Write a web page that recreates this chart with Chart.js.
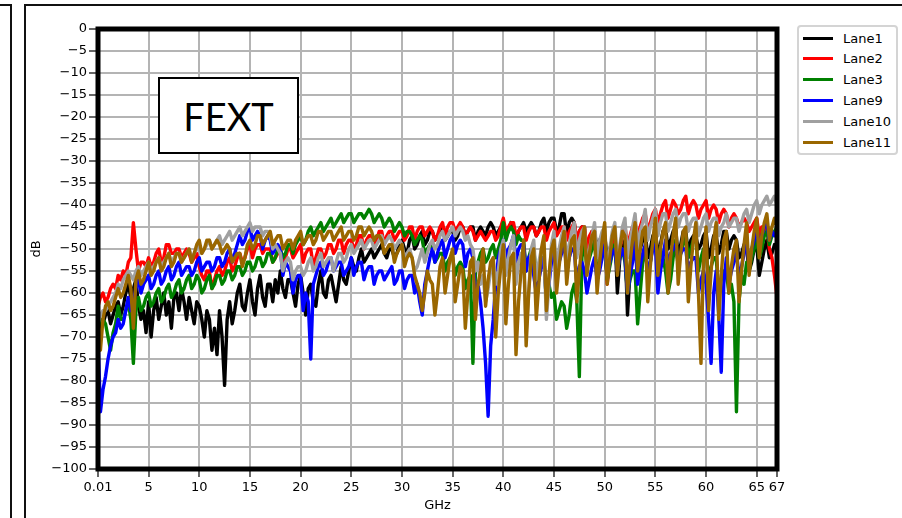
<!DOCTYPE html>
<html>
<head>
<meta charset="utf-8">
<script src="https://cdn.jsdelivr.net/npm/chart.js@4.4.1/dist/chart.umd.min.js"></script>
<style>
html,body{margin:0;padding:0;background:#fff;}
#wrap{position:relative;width:902px;height:518px;overflow:hidden;background:#fff;}
#c{position:absolute;left:0;top:0;}
.frameL{position:absolute;left:0;top:4px;width:10px;height:520px;border-top:2px solid #111;border-right:2px solid #111;}
.frameR{position:absolute;left:24px;top:4px;width:890px;height:520px;border-top:2px solid #111;border-left:2px solid #111;}
#fext{position:absolute;left:158px;top:77px;width:137px;height:73px;border:2px solid #000;background:#fff;font-family:Lato,'Open Sans',sans-serif;font-size:38px;display:flex;align-items:center;justify-content:center;color:#000;}
#legend{position:absolute;left:797px;top:25px;width:97px;height:126px;border:2px solid #d4d4d4;border-radius:4px;background:#fff;font-family:'DejaVu Sans',sans-serif;font-size:13px;color:#000;}
.item{position:absolute;left:4px;height:20px;display:flex;align-items:center;white-space:nowrap;}
.sw{width:30px;height:3px;margin-right:10px;}
</style>
</head>
<body>
<div id="wrap">
  <div class="frameL"></div>
  <div class="frameR"></div>
  <canvas id="c" width="902" height="518"></canvas>
  <div id="fext">FEXT</div>
  <div id="legend"></div>
</div>
<script>
// Frequency points (GHz)
const freq = [
0.01,0.25,0.5,0.75,1,1.25,1.5,1.75,2,2.25,2.5,2.75,3,3.25,3.5,3.75,4,4.25,4.5,4.75,
5,5.25,5.5,5.75,6,6.25,6.5,6.75,7,7.25,7.5,7.75,8,8.25,8.5,8.75,9,9.25,9.5,9.75,
10,10.25,10.5,10.75,11,11.25,11.5,11.75,12,12.25,12.5,12.75,13,13.25,13.5,13.75,14,14.25,14.5,14.75,
15,15.25,15.5,15.75,16,16.25,16.5,16.75,17,17.25,17.5,17.75,18,18.25,18.5,18.75,19,19.25,19.5,19.75,
20,20.25,20.5,20.75,21,21.25,21.5,21.75,22,22.25,22.5,22.75,23,23.25,23.5,23.75,24,24.25,24.5,24.75,
25,25.25,25.5,25.75,26,26.25,26.5,26.75,27,27.25,27.5,27.75,28,28.25,28.5,28.75,29,29.25,29.5,29.75,
30,30.25,30.5,30.75,31,31.25,31.5,31.75,32,32.25,32.5,32.75,33,33.25,33.5,33.75,34,34.25,34.5,34.75,
35,35.25,35.5,35.75,36,36.25,36.5,36.75,37,37.25,37.5,37.75,38,38.25,38.5,38.75,39,39.25,39.5,39.75,
40,40.25,40.5,40.75,41,41.25,41.5,41.75,42,42.25,42.5,42.75,43,43.25,43.5,43.75,44,44.25,44.5,44.75,
45,45.25,45.5,45.75,46,46.25,46.5,46.75,47,47.25,47.5,47.75,48,48.25,48.5,48.75,49,49.25,49.5,49.75,
50,50.25,50.5,50.75,51,51.25,51.5,51.75,52,52.25,52.5,52.75,53,53.25,53.5,53.75,54,54.25,54.5,54.75,
55,55.25,55.5,55.75,56,56.25,56.5,56.75,57,57.25,57.5,57.75,58,58.25,58.5,58.75,59,59.25,59.5,59.75,
60,60.25,60.5,60.75,61,61.25,61.5,61.75,62,62.25,62.5,62.75,63,63.25,63.5,63.75,64,64.25,64.5,64.75,
65,65.25,65.5,65.75,66,66.25,66.5,66.75,67];

const lane1 = [
-66,-68,-67,-65,-64,-67,-65,-63,-62,-65,-63,-60,-58,-61,-59,-57,-63,-66,-64,-69,
-62,-70,-64,-61,-66,-63,-60,-65,-62,-68,-61,-60,-64,-59,-62,-66,-61,-64,-67,-62,
-63,-66,-70,-64,-66,-73,-68,-74,-64,-70,-81,-66,-62,-67,-64,-60,-58,-63,-64,-60,
-57,-62,-65,-59,-56,-61,-63,-58,-58,-62,-57,-60,-55,-59,-61,-57,-57,-60,-63,-58,
-56,-60,-65,-59,-58,-62,-63,-58,-55,-60,-61,-57,-56,-59,-62,-58,-54,-57,-58,-55,
-52,-54,-55,-52,-50,-53,-52,-51,-50,-52,-51,-50,-49,-51,-52,-50,-50,-52,-51,-49,
-48,-50,-51,-48,-47,-50,-49,-47,-46,-49,-48,-46,-46,-48,-47,-46,-45,-48,-47,-46,
-46,-48,-47,-45,-45,-47,-46,-45,-45,-48,-46,-45,-46,-47,-45,-44,-45,-47,-46,-45,
-45,-47,-46,-44,-45,-48,-46,-45,-44,-46,-45,-44,-45,-47,-46,-44,-43,-46,-44,-43,
-43,-46,-45,-42,-42,-47,-44,-43,-44,-49,-46,-45,-45,-51,-48,-46,-46,-50,-48,-47,
-47,-52,-50,-48,-46,-60,-52,-50,-48,-65,-55,-49,-47,-53,-50,-48,-46,-52,-50,-47,
-46,-51,-49,-46,-45,-50,-48,-46,-45,-52,-49,-46,-46,-51,-48,-47,-47,-50,-49,-47,
-46,-52,-50,-47,-47,-51,-49,-46,-46,-50,-48,-47,-48,-52,-51,-49,-50,-55,-53,-50,
-49,-56,-53,-50,-48,-52,-51,-49,-50];

const lane2 = [
-63,-61,-60,-62,-61,-59,-58,-59,-56,-57,-55,-56,-53,-52,-44,-50,-55,-53,-53,-54,
-52,-54,-53,-51,-50,-53,-52,-49,-49,-51,-51,-50,-50,-52,-51,-50,-51,-53,-52,-51,
-54,-56,-57,-55,-55,-59,-57,-55,-54,-56,-55,-53,-52,-55,-54,-52,-51,-53,-52,-50,
-49,-52,-50,-49,-49,-51,-50,-50,-50,-53,-52,-51,-51,-53,-52,-50,-50,-52,-51,-50,
-49,-53,-51,-50,-50,-54,-52,-50,-50,-52,-51,-49,-49,-51,-50,-48,-48,-51,-49,-48,
-48,-50,-49,-47,-47,-50,-48,-47,-47,-49,-48,-46,-46,-49,-47,-46,-46,-48,-47,-46,
-46,-48,-47,-45,-45,-48,-46,-45,-45,-47,-46,-45,-46,-48,-47,-45,-44,-47,-45,-44,
-44,-46,-45,-44,-45,-47,-46,-45,-46,-48,-47,-46,-47,-48,-47,-46,-46,-48,-47,-45,
-43,-46,-45,-44,-44,-47,-46,-45,-45,-48,-46,-45,-45,-47,-46,-45,-45,-48,-46,-45,
-44,-47,-46,-45,-45,-48,-46,-45,-44,-48,-46,-45,-45,-50,-47,-46,-46,-52,-49,-47,
-48,-58,-52,-48,-47,-55,-50,-47,-45,-49,-47,-45,-44,-47,-45,-43,-42,-46,-44,-42,
-41,-44,-42,-40,-39,-43,-41,-39,-40,-42,-41,-39,-38,-42,-40,-39,-40,-43,-41,-40,
-39,-43,-41,-40,-41,-44,-42,-41,-42,-45,-43,-42,-43,-45,-44,-43,-44,-46,-45,-44,
-43,-47,-45,-46,-45,-50,-52,-56,-61];

const lane3 = [
-68,-66,-66,-67,-70,-73,-69,-67,-63,-66,-66,-64,-62,-66,-76,-64,-61,-64,-63,-61,
-60,-63,-62,-60,-59,-62,-61,-59,-58,-61,-60,-58,-57,-60,-59,-57,-56,-59,-58,-56,
-57,-60,-59,-57,-56,-59,-58,-56,-56,-58,-57,-55,-55,-57,-56,-54,-54,-56,-55,-53,
-53,-55,-54,-52,-52,-54,-53,-51,-51,-53,-52,-50,-50,-52,-51,-49,-49,-51,-49,-48,
-47,-49,-48,-46,-45,-47,-46,-45,-44,-46,-45,-44,-43,-45,-44,-43,-42,-44,-43,-42,
-42,-44,-43,-42,-42,-43,-42,-41,-42,-44,-43,-42,-43,-45,-44,-43,-44,-46,-45,-44,
-45,-47,-46,-46,-47,-49,-48,-47,-48,-51,-50,-49,-50,-53,-52,-51,-51,-55,-53,-52,
-52,-56,-54,-53,-54,-59,-57,-56,-76,-55,-53,-51,-50,-53,-52,-50,-49,-52,-50,-48,
-44,-48,-46,-45,-46,-49,-47,-48,-48,-55,-52,-50,-50,-56,-54,-52,-52,-62,-58,-61,
-60,-66,-64,-62,-63,-68,-65,-60,-58,-62,-79,-52,-49,-54,-52,-50,-48,-56,-53,-50,
-50,-57,-54,-51,-49,-55,-52,-50,-53,-60,-57,-55,-55,-67,-60,-53,-50,-56,-53,-49,
-47,-53,-50,-52,-55,-60,-57,-52,-48,-54,-51,-49,-47,-52,-50,-48,-48,-55,-52,-50,
-50,-57,-54,-52,-52,-60,-57,-55,-55,-60,-58,-62,-87,-62,-56,-58,-53,-55,-52,-50,
-48,-52,-50,-47,-46,-49,-47,-46,-45];

const lane9 = [
-70,-87,-82,-79,-75,-72,-70,-69,-66,-68,-67,-64,-61,-64,-62,-59,-57,-60,-58,-57,
-56,-59,-58,-56,-55,-58,-57,-55,-54,-57,-56,-54,-53,-56,-55,-54,-54,-56,-55,-53,
-52,-55,-54,-53,-53,-55,-54,-52,-52,-54,-53,-51,-50,-53,-51,-49,-47,-49,-48,-46,
-45,-48,-47,-46,-47,-50,-48,-47,-48,-51,-50,-49,-50,-56,-53,-54,-55,-60,-57,-56,
-56,-64,-60,-62,-75,-58,-56,-54,-53,-56,-55,-53,-52,-55,-54,-53,-53,-56,-55,-54,
-52,-56,-54,-53,-53,-57,-55,-54,-54,-58,-56,-55,-55,-57,-56,-55,-54,-58,-57,-55,
-55,-59,-57,-56,-56,-60,-58,-62,-65,-58,-55,-52,-50,-53,-51,-49,-48,-52,-50,-48,
-47,-51,-49,-48,-49,-54,-51,-50,-52,-60,-58,-62,-68,-76,-88,-72,-66,-58,-52,-50,
-48,-52,-50,-49,-47,-53,-50,-49,-49,-55,-52,-51,-56,-60,-57,-54,-52,-62,-58,-53,
-50,-56,-53,-51,-48,-55,-52,-50,-50,-58,-54,-53,-55,-60,-57,-54,-52,-57,-55,-52,
-49,-56,-53,-51,-50,-55,-52,-50,-52,-60,-56,-53,-48,-58,-54,-51,-49,-56,-53,-50,
-49,-60,-55,-52,-48,-54,-51,-50,-49,-53,-51,-50,-50,-55,-53,-52,-52,-60,-57,-55,
-58,-66,-76,-60,-55,-65,-78,-58,-52,-58,-55,-53,-50,-57,-54,-51,-48,-54,-50,-48,
-45,-50,-47,-45,-44,-48,-46,-47,-46];

const lane10 = [
-67,-65,-64,-64,-63,-62,-61,-60,-58,-59,-57,-56,-55,-56,-57,-55,-54,-56,-55,-54,
-53,-55,-54,-53,-52,-54,-53,-52,-51,-53,-52,-51,-51,-53,-52,-51,-50,-52,-51,-50,
-49,-51,-50,-49,-48,-50,-49,-48,-47,-49,-48,-47,-46,-48,-47,-46,-45,-47,-46,-45,
-44,-46,-45,-45,-45,-47,-46,-46,-47,-50,-49,-50,-51,-55,-53,-52,-53,-57,-55,-54,
-54,-56,-55,-53,-52,-55,-54,-52,-51,-54,-53,-52,-52,-55,-53,-51,-51,-53,-52,-50,
-49,-51,-50,-49,-48,-50,-49,-48,-48,-50,-49,-48,-47,-49,-48,-47,-48,-50,-49,-48,
-49,-52,-51,-50,-52,-55,-54,-52,-50,-53,-51,-49,-48,-50,-49,-47,-46,-48,-47,-46,
-45,-47,-46,-45,-46,-48,-47,-49,-50,-55,-53,-58,-56,-62,-59,-55,-52,-58,-55,-50,
-48,-56,-52,-49,-47,-58,-53,-51,-52,-69,-60,-50,-48,-57,-53,-50,-50,-66,-58,-49,
-46,-55,-50,-47,-45,-53,-49,-46,-44,-52,-48,-46,-45,-54,-50,-47,-44,-52,-48,-46,
-45,-56,-50,-46,-44,-53,-49,-45,-43,-52,-48,-45,-42,-50,-46,-44,-41,-48,-45,-43,
-41,-47,-44,-42,-42,-46,-44,-42,-41,-45,-43,-42,-42,-46,-44,-43,-43,-47,-45,-43,
-42,-46,-44,-43,-43,-47,-45,-44,-42,-45,-44,-43,-43,-46,-44,-42,-41,-44,-42,-40,
-39,-42,-40,-39,-38,-40,-39,-38,-40];

const lane11 = [
-66,-73,-66,-63,-62,-64,-63,-61,-59,-61,-60,-58,-56,-59,-68,-57,-55,-58,-57,-55,
-53,-56,-55,-53,-52,-55,-54,-52,-51,-54,-53,-51,-51,-53,-52,-51,-50,-53,-51,-49,
-48,-51,-50,-48,-48,-50,-49,-48,-49,-51,-50,-49,-50,-53,-52,-51,-51,-54,-52,-49,
-48,-50,-49,-47,-47,-49,-48,-47,-46,-49,-48,-47,-47,-50,-49,-48,-48,-50,-48,-47,
-46,-49,-48,-47,-47,-49,-48,-46,-46,-48,-47,-46,-46,-48,-47,-46,-45,-48,-47,-46,
-46,-48,-47,-45,-45,-47,-46,-45,-46,-48,-47,-47,-48,-51,-50,-49,-49,-53,-51,-50,
-49,-54,-52,-51,-52,-56,-58,-60,-64,-60,-55,-57,-58,-65,-60,-54,-52,-60,-56,-52,
-50,-62,-58,-54,-55,-68,-60,-53,-52,-66,-58,-55,-50,-63,-57,-53,-52,-70,-60,-54,
-49,-67,-58,-52,-51,-74,-62,-55,-48,-72,-60,-52,-50,-66,-58,-50,-47,-64,-56,-50,
-48,-60,-54,-49,-46,-58,-52,-48,-47,-62,-55,-49,-45,-56,-51,-47,-46,-60,-53,-48,
-44,-58,-52,-47,-45,-56,-50,-46,-47,-60,-53,-48,-44,-55,-50,-46,-45,-62,-54,-48,
-43,-56,-50,-46,-44,-60,-52,-47,-43,-58,-51,-46,-45,-62,-54,-48,-44,-60,-76,-52,
-45,-64,-55,-48,-44,-66,-56,-48,-46,-60,-54,-50,-48,-62,-55,-49,-44,-56,-50,-46,
-43,-52,-47,-44,-42,-48,-45,-43,-45];

const seriesNames = ['Lane1','Lane2','Lane3','Lane9','Lane10','Lane11'];
const seriesValues = [lane1, lane2, lane3, lane9, lane10, lane11];
const seriesColors = ['#000000','#ff0000','#008000','#0000ff','#a0a0a0','#9a6700'];

const xTicks = [0.01,5,10,15,20,25,30,35,40,45,50,55,60,65,67];
const yTicks = [-100,-95,-90,-85,-80,-75,-70,-65,-60,-55,-50,-45,-40,-35,-30,-25,-20,-15,-10,-5,0];

const datasets = seriesNames.map((name, k) => ({
  label: name,
  data: freq.map((f, i) => ({x: f, y: seriesValues[k][i]})),
  borderColor: seriesColors[k],
  backgroundColor: seriesColors[k],
  borderWidth: 3.4,
  borderJoinStyle: 'round',
  borderCapStyle: 'round',
  pointRadius: 0,
  tension: 0,
  fill: false,
  order: seriesNames.length - k
}));

const spines = {
  id: 'spines',
  afterDatasetsDraw(chart) {
    const a = chart.chartArea, ctx = chart.ctx;
    ctx.save();
    ctx.lineWidth = 5;
    ctx.strokeStyle = '#000';
    ctx.strokeRect(a.left, a.top, a.right - a.left, a.bottom - a.top);
    ctx.restore();
  }
};

const tickFont = {family: 'DejaVu Sans', size: 13};

new Chart(document.getElementById('c'), {
  type: 'line',
  data: {datasets},
  plugins: [spines],
  options: {
    responsive: false,
    animation: false,
    devicePixelRatio: 1,
    layout: {padding: {left: 25, right: 125, top: 29, bottom: 1}},
    plugins: {legend: {display: false}, tooltip: {enabled: false}},
    scales: {
      x: {
        type: 'linear', min: 0.01, max: 67,
        afterBuildTicks: s => { s.ticks = xTicks.map(v => ({value: v})); },
        afterFit: s => { s.height = 48; },
        ticks: {autoSkip: false, maxRotation: 0, minRotation: 0, padding: 3, color: '#000', font: tickFont,
                callback: v => String(v)},
        grid: {color: '#b4b4b4', lineWidth: 2, tickColor: '#000', tickLength: 8, tickWidth: 1.2},
        border: {display: false},
        title: {display: true, text: 'GHz', color: '#000', font: tickFont, padding: {top: 0, bottom: 4}}
      },
      y: {
        min: -100, max: 0,
        afterBuildTicks: s => { s.ticks = yTicks.map(v => ({value: v})); },
        afterFit: s => { s.width = 73; },
        ticks: {autoSkip: false, padding: 2, color: '#000', font: tickFont,
                callback: v => String(v).replace('-', '\u2212')},
        grid: {color: '#b4b4b4', lineWidth: 2, tickColor: '#000', tickLength: 9, tickWidth: 1.2},
        border: {display: false},
        title: {display: true, text: 'dB', color: '#000', font: tickFont, padding: {top: 4, bottom: 0}}
      }
    }
  }
});

const lg = document.getElementById('legend');
seriesNames.forEach((name, k) => {
  const it = document.createElement('div');
  it.className = 'item';
  it.style.top = (1 + k * 20.8) + 'px';
  const sw = document.createElement('div');
  sw.className = 'sw';
  sw.style.background = seriesColors[k];
  const tx = document.createElement('span');
  tx.textContent = name;
  it.appendChild(sw); it.appendChild(tx);
  lg.appendChild(it);
});
</script>
</body>
</html>
